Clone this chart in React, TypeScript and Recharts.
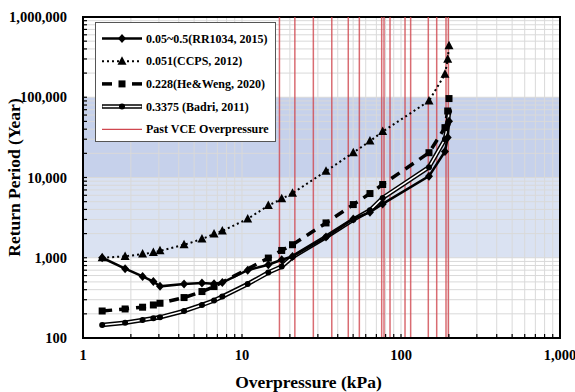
import { LineChart, Line, XAxis, YAxis, CartesianGrid, ReferenceArea, ReferenceLine, Legend } from 'recharts';

// overpressure (kPa) sampled by all studies
const pressure = [1.32, 1.84, 2.37, 2.77, 3.05, 4.32, 5.6, 6.67, 7.52, 10.86, 14.64, 17.77, 20.78, 33.76, 50.1, 63.8, 76.7, 150, 189, 196.7, 200.4];
// return periods (year)
const rr1034 = [1000, 730, 585, 505, 440, 470, 483, 475, 490, 700, 817, 944, 1038, 1815, 3050, 3700, 4690, 10400, 21100, 31600, 50100];
const ccps = [1000, 1040, 1110, 1165, 1220, 1450, 1710, 1980, 2160, 3050, 4470, 5420, 6360, 11990, 20400, 28400, 37300, 89900, 194000, 298000, 438000];
const heWeng = [217, 230, 242, 258, 271, 319, 379, 437, null, null, 991, 1233, 1453, 2716, 4597, 6310, 8180, 20370, 41800, 67400, 96300];
const badri = [145, 155, 168, 176, 181, 217, 258, 293, 328, 470, 655, 778, 1021, 1815, 2985, 3900, 5570, 13450, 29900, 46000, 66800];

// past VCE incidents (kPa)
const vcePressures = [17.2, 21.5, 28.1, 36.7, 46.6, 54.7, 75.6, 78.2, 85.3, 106, 115, 148.5, 167.7, 191.9, 198.4];

const xMajor = [1, 10, 100, 1000];
const yMajor = [100, 1000, 10000, 100000, 1000000];
const minorSteps = [2, 3, 4, 5, 6, 7, 8, 9];

const withMinors = (majors: number[]) => {
  const out: number[] = [];
  majors.forEach((m, i) => {
    out.push(m);
    if (i < majors.length - 1) minorSteps.forEach((s) => out.push(m * s));
  });
  return out;
};
const xTicks = withMinors(xMajor);
const yTicks = withMinors(yMajor);

const toSeries = (vals: (number | null)[]) =>
  pressure.map((p, i) => ({ p, v: vals[i] })).filter((d) => d.v != null);

const fmt = (majors: number[]) => (v: number) => (majors.includes(v) ? v.toLocaleString('en-US') : '');

const FONT = '"Liberation Serif", "Times New Roman", serif';

const Diamond = (props: any) => {
  const { cx, cy } = props;
  if (cx == null || cy == null) return <g />;
  return <path d={`M${cx},${cy - 4.5}L${cx + 4},${cy}L${cx},${cy + 4.5}L${cx - 4},${cy}Z`} fill="#000" />;
};
const Triangle = (props: any) => {
  const { cx, cy } = props;
  if (cx == null || cy == null) return <g />;
  return <path d={`M${cx},${cy - 5}L${cx + 4.5},${cy + 3.5}L${cx - 4.5},${cy + 3.5}Z`} fill="#000" />;
};
const Square = (props: any) => {
  const { cx, cy } = props;
  if (cx == null || cy == null) return <g />;
  return <rect x={cx - 3.5} y={cy - 3.5} width={7} height={7} fill="#000" />;
};
const Dot = (props: any) => {
  const { cx, cy } = props;
  if (cx == null || cy == null) return <g />;
  return <circle cx={cx} cy={cy} r={3} fill="#000" />;
};

const legendRows = [
  '0.05~0.5(RR1034, 2015)',
  '0.051(CCPS, 2012)',
  '0.228(He&Weng, 2020)',
  '0.3375 (Badri, 2011)',
  'Past VCE Overpressure',
];

function LegendBox() {
  const rowY = (i: number) => 16.5 + i * 22.7;
  return (
    <svg width={181} height={120} style={{ display: 'block' }}>
      <rect x={0.5} y={0.5} width={180} height={119} fill="#fff" stroke="#555" />
      <line x1={7} x2={47} y1={rowY(0)} y2={rowY(0)} stroke="#000" strokeWidth={2.5} />
      <Diamond cx={27} cy={rowY(0)} />
      <line x1={7} x2={47} y1={rowY(1)} y2={rowY(1)} stroke="#000" strokeWidth={2} strokeDasharray="2 3" />
      <Triangle cx={27} cy={rowY(1)} />
      <line x1={7} x2={17} y1={rowY(2)} y2={rowY(2)} stroke="#000" strokeWidth={3.5} />
      <line x1={37} x2={47} y1={rowY(2)} y2={rowY(2)} stroke="#000" strokeWidth={3.5} />
      <Square cx={27} cy={rowY(2)} />
      <line x1={7} x2={47} y1={rowY(3)} y2={rowY(3)} stroke="#000" strokeWidth={4.5} />
      <line x1={7.5} x2={46.5} y1={rowY(3)} y2={rowY(3)} stroke="#fff" strokeWidth={1.5} />
      <Dot cx={27} cy={rowY(3)} />
      <line x1={7} x2={47} y1={rowY(4)} y2={rowY(4)} stroke="#d0474f" strokeWidth={1.2} />
      {legendRows.map((t, i) => (
        <text key={t} x={51} y={rowY(i) + 4} fontFamily={FONT} fontWeight="bold" fontSize={12} fill="#000">
          {t}
        </text>
      ))}
    </svg>
  );
}

export default function App() {
  return (
    <div style={{ position: 'absolute', left: 0, top: 0, background: '#fff' }}>
      <LineChart
        width={575}
        height={392}
        data={toSeries(ccps)}
        margin={{ top: 17, right: 15, bottom: 0, left: 0 }}
      >
        <ReferenceArea y1={10000} y2={100000} fill="#c6d1eb" fillOpacity={1} stroke="none" zIndex={-200} />
        <ReferenceArea y1={1000} y2={10000} fill="#dae2f2" fillOpacity={1} stroke="none" zIndex={-200} />
        <CartesianGrid stroke="#d9d9d9" strokeWidth={1} horizontalValues={yTicks} verticalValues={xTicks} zIndex={-150} />
        {vcePressures.map((p) => (
          <ReferenceLine key={p} x={p} stroke="#d0474f" strokeOpacity={0.8} strokeWidth={1.5} />
        ))}
        <XAxis
          type="number"
          dataKey="p"
          scale="log"
          domain={[1, 1000]}
          allowDataOverflow
          ticks={xTicks}
          interval={0}
          tickFormatter={fmt(xMajor)}
          height={54}
          tickSize={-4}
          tickMargin={16}
          axisLine={{ stroke: '#000', strokeWidth: 2 }}
          tickLine={{ stroke: '#000', strokeWidth: 1.2 }}
          tick={{ fill: '#000', fontFamily: FONT, fontWeight: 'bold', fontSize: 14.5 }}
          label={{
            value: 'Overpressure (kPa)',
            position: 'insideBottom',
            offset: 4,
            dx: -13,
            style: { fill: '#000', fontFamily: FONT, fontWeight: 'bold', fontSize: 17.5 },
          }}
        />
        <YAxis
          type="number"
          dataKey="v"
          scale="log"
          domain={[100, 1000000]}
          allowDataOverflow
          ticks={yTicks}
          interval={0}
          tickFormatter={fmt(yMajor)}
          width={83}
          tickSize={-4}
          tickMargin={20}
          axisLine={{ stroke: '#000', strokeWidth: 2 }}
          tickLine={{ stroke: '#000', strokeWidth: 1.2 }}
          tick={{ fill: '#000', fontFamily: FONT, fontWeight: 'bold', fontSize: 14.5 }}
          label={{
            value: 'Return Period (Year)',
            angle: -90,
            position: 'insideLeft',
            offset: 14,
            style: { fill: '#000', fontFamily: FONT, fontWeight: 'bold', fontSize: 17.5, textAnchor: 'middle' },
          }}
        />
        <ReferenceArea x1={1} x2={1000} y1={100} y2={1000000} fill="none" stroke="#000" strokeWidth={2} />
        <Line data={toSeries(ccps)} dataKey="v" stroke="#000" strokeWidth={2} strokeDasharray="2 3" dot={Triangle} activeDot={false} isAnimationActive={false} />
        <Line data={toSeries(heWeng)} dataKey="v" stroke="#000" strokeWidth={3.5} strokeDasharray="10 7" dot={Square} activeDot={false} isAnimationActive={false} />
        <Line data={toSeries(badri)} dataKey="v" stroke="#000" strokeWidth={4.5} dot={false} activeDot={false} isAnimationActive={false} />
        <Line data={toSeries(badri)} dataKey="v" stroke="#fff" strokeWidth={1.5} dot={Dot} activeDot={false} isAnimationActive={false} />
        <Line data={toSeries(rr1034)} dataKey="v" stroke="#000" strokeWidth={2.5} dot={Diamond} activeDot={false} isAnimationActive={false} />
        <Legend
          layout="vertical"
          align="center"
          verticalAlign="middle"
          content={() => <LegendBox />}
          wrapperStyle={{ left: 95, top: 22, width: 181, height: 120 }}
        />
      </LineChart>
    </div>
  );
}
